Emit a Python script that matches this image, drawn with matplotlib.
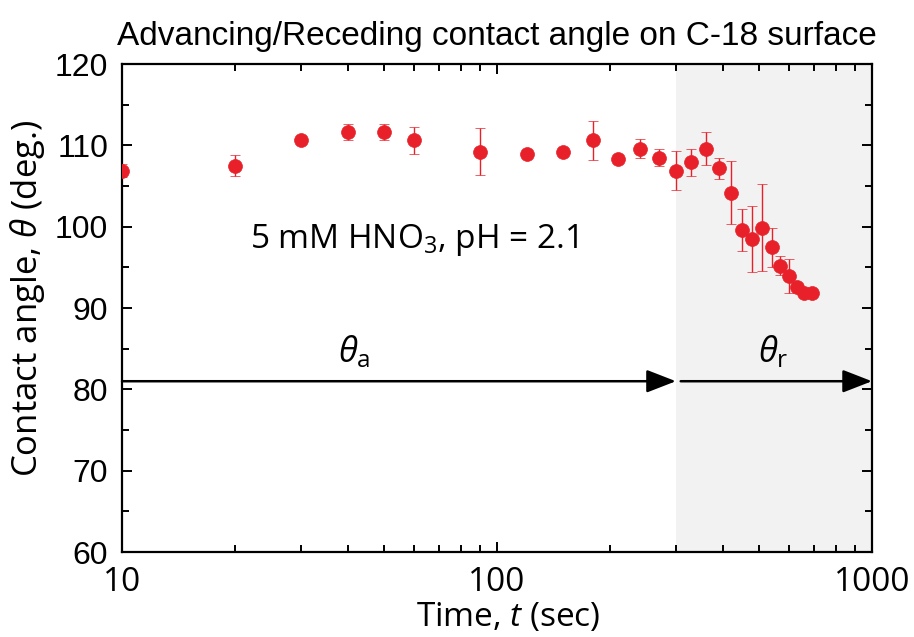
import matplotlib
matplotlib.use("Agg")
import matplotlib.pyplot as plt
from matplotlib.ticker import MultipleLocator, NullFormatter

time_s = [10, 20, 30, 40, 50, 60, 90, 120, 150, 180, 210, 240, 270,
          300, 330, 360, 390, 420, 450, 480, 510, 540, 570, 600, 630, 660, 690]
angle = [106.9, 107.5, 110.6, 111.6, 111.6, 110.6, 109.2, 108.9, 109.2, 110.6,
         108.3, 109.6, 108.5, 106.9, 107.9, 109.6, 107.2, 104.2, 99.6, 98.5,
         99.9, 97.5, 95.2, 93.9, 92.6, 91.8, 91.8]
err = [0.8, 1.3, 0.3, 1.0, 1.0, 1.7, 2.9, 0.5, 0.3, 2.45,
       0.3, 1.2, 1.0, 2.45, 1.65, 2.06, 1.3, 3.9, 2.6, 4.1,
       5.3, 2.4, 1.2, 2.1, 0.3, 0.3, 0.3]

title = "Advancing/Receding contact angle on C-18 surface"
xlabel = "Time, $\\mathit{t}$ (sec)"
ylabel = "Contact angle, $\\mathit{\\theta}$ (deg.)"
annot = "5 mM HNO$_3$, pH = 2.1"
xticks = [10, 100, 1000]
xticklabels = ["10", "100", "1000"]
yticks = [60, 70, 80, 90, 100, 110, 120]
yticklabels = ["60", "70", "80", "90", "100", "110", "120"]
receding_start = 300
arrow_y = 81.0

red = "#e8202a"

plt.rcParams["mathtext.fontset"] = "custom"
plt.rcParams["mathtext.it"] = "Open Sans:italic"
plt.rcParams["mathtext.rm"] = "Open Sans"
plt.rcParams["mathtext.bf"] = "Open Sans:bold"

fig = plt.figure(figsize=(9.14, 6.37), dpi=100)
ax = fig.add_axes([0.1335, 0.1334, 0.8205, 0.7661])

ax.axvspan(receding_start, 1000, color="#f2f2f2", zorder=0, lw=0)

ax.errorbar(time_s, angle, yerr=err, fmt="o", color=red, ms=10,
            mec=red, mew=0.5,
            ecolor=red, elinewidth=1.0, capsize=3.6, capthick=1.0,
            zorder=3)

ax.set_xscale("log")
ax.set_xlim(10, 1000)
ax.set_ylim(60, 120)
ax.yaxis.set_minor_locator(MultipleLocator(5))
ax.xaxis.set_minor_formatter(NullFormatter())

for s in ax.spines.values():
    s.set_linewidth(1.6)

ax.tick_params(which="both", direction="in", top=True, right=True, width=1.4)
ax.tick_params(which="major", length=7)
ax.tick_params(which="minor", length=5)
ax.tick_params(axis="x", which="major", pad=10)
ax.tick_params(axis="y", which="major", pad=10)
ax.set_xticks(xticks)
ax.set_xticklabels(xticklabels, family=["Open Sans", "DejaVu Sans"], size=24)
ax.set_yticks(yticks)
ax.set_yticklabels(yticklabels, family=["Liberation Sans", "DejaVu Sans"], size=23)

labfont = ["Open Sans", "DejaVu Sans"]
ax.set_xlabel(xlabel, fontsize=24, family=labfont)
ax.set_ylabel(ylabel, fontsize=25, family=labfont)
ax.xaxis.set_label_coords(0.515, -0.1, transform=ax.transAxes)
ax.xaxis.label.set_va("top")
ax.yaxis.set_label_coords(-0.1, 0.52, transform=ax.transAxes)

ax.set_title(title, fontsize=24, family=["Liberation Sans", "DejaVu Sans"], pad=14)

ax.text(21.9, 98.4, annot, fontsize=24, family=labfont, va="center", ha="left")

astyle = "-|>,head_length=1.8,head_width=0.7"
ax.annotate("", xy=(receding_start, arrow_y), xytext=(10, arrow_y),
            arrowprops=dict(arrowstyle=astyle, color="black", lw=1.8,
                            shrinkA=0, shrinkB=0))
ax.annotate("", xy=(1000, arrow_y), xytext=(receding_start * 1.03, arrow_y),
            arrowprops=dict(arrowstyle=astyle, color="black", lw=1.8,
                            shrinkA=0, shrinkB=0))
ax.text(41.6, 84.6, "$\\mathit{\\theta}_{\\mathrm{a}}$", fontsize=25, ha="center", va="center")
ax.text(545, 84.6, "$\\mathit{\\theta}_{\\mathrm{r}}$", fontsize=25, ha="center", va="center")

fig.savefig("out.png", dpi=100)
